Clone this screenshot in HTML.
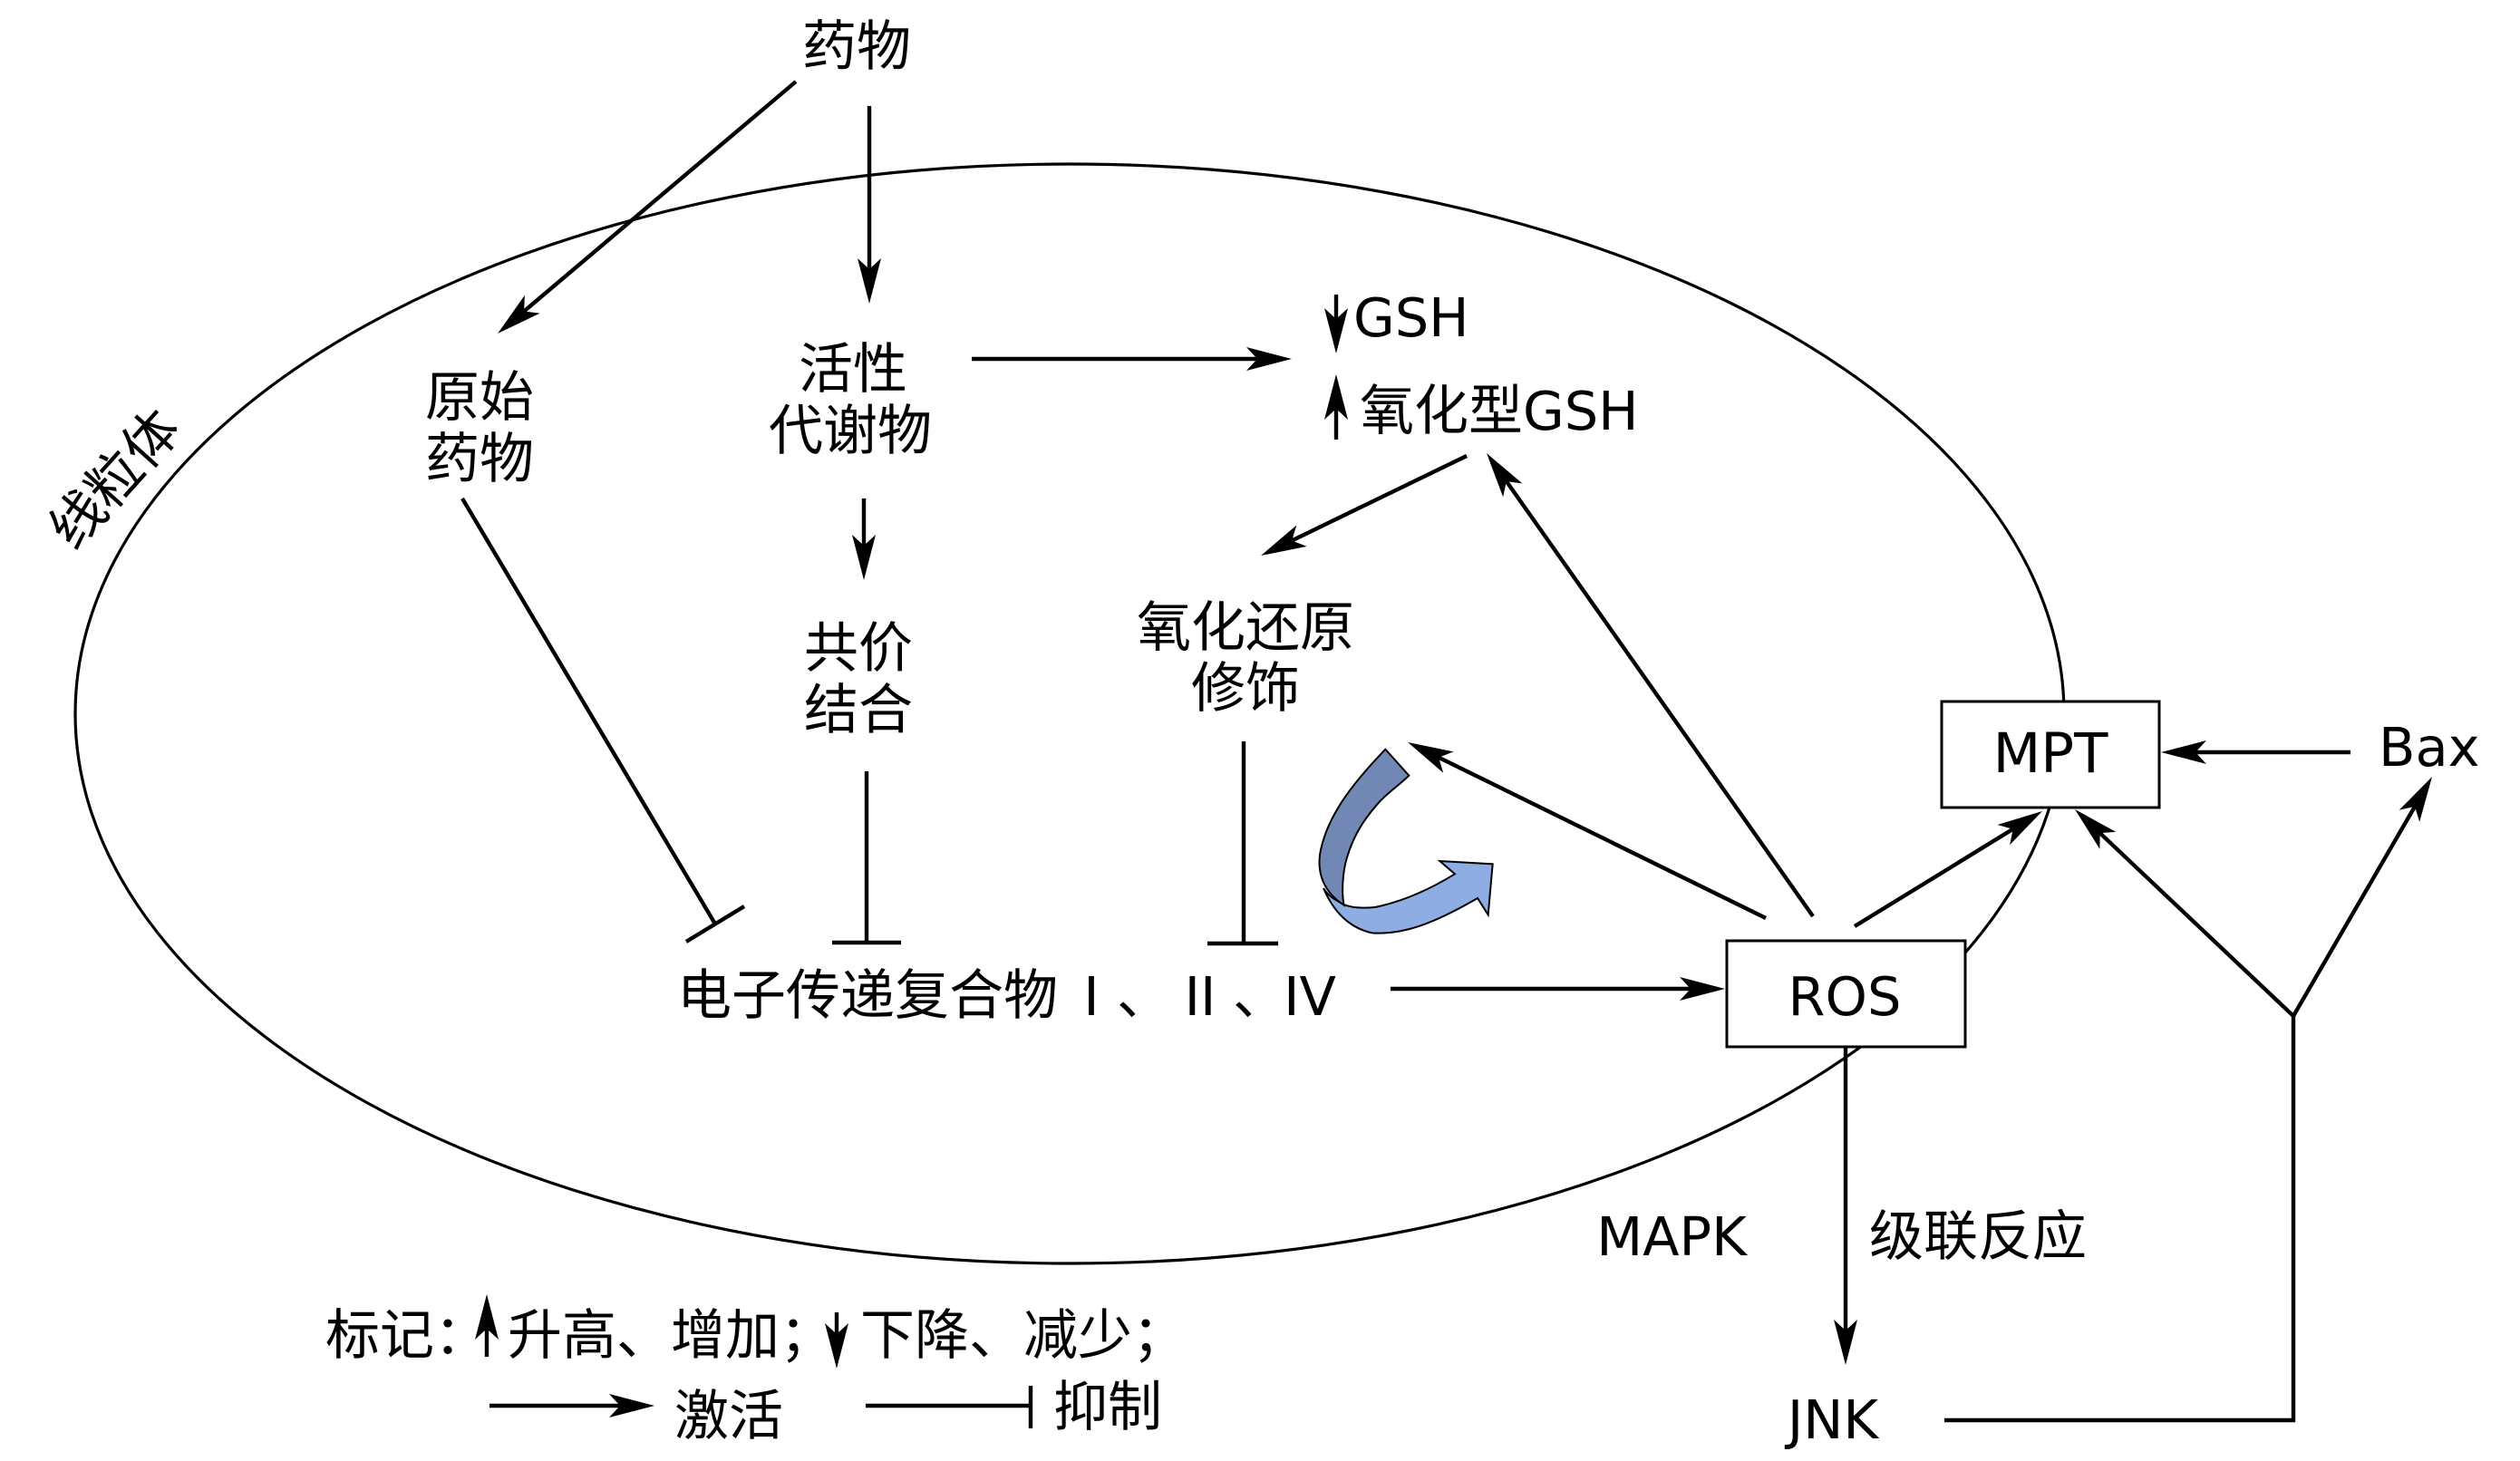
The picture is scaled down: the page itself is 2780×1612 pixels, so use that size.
<!DOCTYPE html>
<html>
<head>
<meta charset="utf-8">
<style>
html,body{margin:0;padding:0;background:#fff;}
svg{display:block;}
.cj{font-family:"Liberation Sans","Noto Sans CJK SC",sans-serif;font-size:60px;fill:#000;}
.la{font-family:"DejaVu Sans","Liberation Sans",sans-serif;font-size:59px;fill:#000;}
</style>
</head>
<body>
<svg width="2780" height="1612" viewBox="0 0 2780 1612" xmlns="http://www.w3.org/2000/svg">
<defs>
<marker id="ah" markerUnits="userSpaceOnUse" orient="auto" markerWidth="70" markerHeight="40" viewBox="-50 -20 70 40" refX="0" refY="0" overflow="visible">
<path d="M15,0 L-35,-13 L-23,0 L-35,13 Z" fill="#000"/>
</marker>
</defs>
<rect x="0" y="0" width="2780" height="1612" fill="#fff"/>

<!-- mitochondrion ellipse -->
<ellipse cx="1180" cy="787.5" rx="1097" ry="606.5" fill="none" stroke="#000" stroke-width="3.2"/>

<g stroke="#000" stroke-width="4.4" fill="none">
<!-- arrows -->
<line x1="878" y1="90" x2="560.5" y2="358.3" marker-end="url(#ah)"/>
<line x1="959" y1="117" x2="959" y2="320" marker-end="url(#ah)"/>
<line x1="1072" y1="396" x2="1410" y2="396" marker-end="url(#ah)"/>
<line x1="1474" y1="325" x2="1474" y2="375" marker-end="url(#ah)"/>
<line x1="1474" y1="485" x2="1474" y2="428" marker-end="url(#ah)"/>
<line x1="1618" y1="503" x2="1404.5" y2="606.5" marker-end="url(#ah)"/>
<line x1="953" y1="550" x2="953" y2="625" marker-end="url(#ah)"/>
<line x1="1534" y1="1091" x2="1888" y2="1091" marker-end="url(#ah)"/>
<line x1="1948" y1="1013" x2="1566.5" y2="825.6" marker-end="url(#ah)"/>
<line x1="2000" y1="1011" x2="1648.6" y2="512.3" marker-end="url(#ah)"/>
<line x1="2046" y1="1022" x2="2240.2" y2="902.8" marker-end="url(#ah)"/>
<line x1="2593" y1="830" x2="2399" y2="830" marker-end="url(#ah)"/>
<line x1="2530" y1="1121" x2="2299.9" y2="903.3" marker-end="url(#ah)"/>
<line x1="2530" y1="1121" x2="2675.5" y2="870" marker-end="url(#ah)"/>
<polyline points="2145,1567 2530,1567 2530,1119"/>
<line x1="2036" y1="1155" x2="2036" y2="1491" marker-end="url(#ah)"/>

<!-- inhibition -->
<line x1="510" y1="550" x2="789" y2="1019.5"/>
<line x1="757" y1="1039" x2="821" y2="1000"/>
<line x1="956" y1="851" x2="956" y2="1040"/>
<line x1="918" y1="1040" x2="994" y2="1040"/>
<line x1="1372" y1="818" x2="1372" y2="1041"/>
<line x1="1332" y1="1041" x2="1410" y2="1041"/>

<!-- legend -->
<line x1="537" y1="1497" x2="537" y2="1443" marker-end="url(#ah)"/>
<line x1="923" y1="1448" x2="923" y2="1495" marker-end="url(#ah)"/>
<line x1="540" y1="1551" x2="707" y2="1551" marker-end="url(#ah)"/>
<line x1="955" y1="1551" x2="1137" y2="1551"/>
<line x1="1137" y1="1529" x2="1137" y2="1576"/>
</g>

<!-- boxes -->
<rect x="2142" y="774" width="240" height="117" fill="#fff" stroke="#000" stroke-width="3"/>
<rect x="1905" y="1038" width="263" height="117" fill="#fff" stroke="#000" stroke-width="3"/>

<!-- blue curved arrow -->
<g transform="translate(1420 790) scale(0.33333)" stroke="#000" stroke-width="6" stroke-linejoin="miter">
<path d="M120,570 C150,640 200,700 280,718 C380,725 480,690 630,603 L665,658 L680,490 L505,480 L555,523 C470,575 380,615 290,633 C250,637 215,635 190,625 C160,610 135,595 120,570 Z" fill="#8eade2"/>
<path d="M325,110 C240,200 130,320 108,460 C100,530 125,585 188,626 C180,590 182,520 198,468 C220,395 252,345 300,290 C330,255 370,230 403,197 Z" fill="#7288b4"/>
</g>

<!-- texts -->
<text class="cj" x="945" y="72" text-anchor="middle">药物</text>
<text class="cj" x="529" y="459" text-anchor="middle">原始</text>
<text class="cj" x="529" y="527" text-anchor="middle">药物</text>
<text class="cj" x="941" y="428" text-anchor="middle">活性</text>
<text class="cj" x="938" y="496" text-anchor="middle">代谢物</text>
<text class="cj" x="947" y="736" text-anchor="middle">共价</text>
<text class="cj" x="947" y="804" text-anchor="middle">结合</text>
<text class="cj" x="1374" y="713" text-anchor="middle">氧化还原</text>
<text class="cj" x="1374" y="780" text-anchor="middle">修饰</text>
<text class="la" x="1493" y="371">GSH</text>
<text class="cj" x="1500" y="474">氧化型<tspan class="la" style="font-family:'DejaVu Sans',sans-serif;font-size:59px;">GSH</tspan></text>

<text class="cj" x="747" y="1119">电子传递复合物</text>
<text class="la" x="1204" y="1120" text-anchor="middle">I</text>
<text class="cj" x="1232" y="1119">、</text>
<text class="la" x="1324" y="1120" text-anchor="middle">II</text>
<text class="cj" x="1360" y="1119">、</text>
<text class="la" x="1445" y="1120" text-anchor="middle">IV</text>

<text class="la" x="2262" y="852" text-anchor="middle" style="font-size:61px">MPT</text>
<text class="la" x="2035" y="1120" text-anchor="middle">ROS</text>
<text class="la" x="2624" y="845">Bax</text>
<text class="la" x="1844" y="1385" text-anchor="middle">MAPK</text>
<text class="cj" x="2182" y="1385" text-anchor="middle">级联反应</text>
<text class="la" x="2022" y="1587" text-anchor="middle">JNK</text>

<text class="cj" transform="translate(125 527) rotate(-48)" x="0" y="23" text-anchor="middle">线粒体</text>

<text class="cj" x="359" y="1494">标记：</text>
<text class="cj" x="560" y="1494">升高、增加；</text>
<text class="cj" x="949" y="1494">下降、减少；</text>
<text class="cj" x="744" y="1583">激活</text>
<text class="cj" x="1162" y="1573">抑制</text>
</svg>
</body>
</html>
